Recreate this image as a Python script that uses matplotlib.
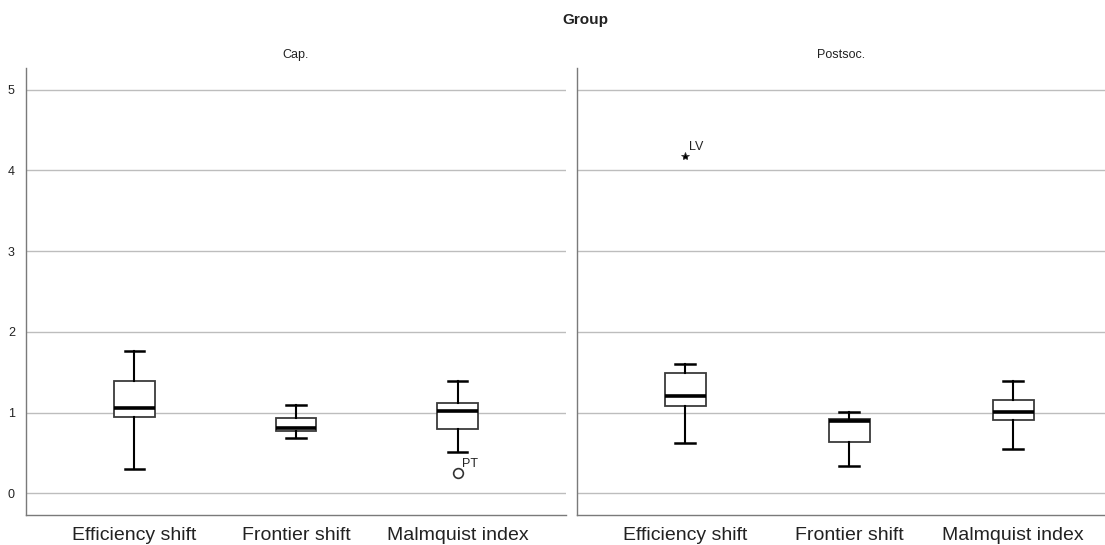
import numpy as np
import matplotlib.pyplot as plt

# categories and panels
categories = ['Efficiency shift', 'Frontier shift', 'Malmquist index']
groups = ['Cap.', 'Postsoc.']

# box summaries per group, in category order
whislo = {'Cap.': [0.30, 0.68, 0.51], 'Postsoc.': [0.62, 0.34, 0.55]}
q1 = {'Cap.': [0.95, 0.77, 0.79], 'Postsoc.': [1.08, 0.64, 0.91]}
med = {'Cap.': [1.05, 0.81, 1.02], 'Postsoc.': [1.20, 0.89, 1.01]}
q3 = {'Cap.': [1.39, 0.93, 1.12], 'Postsoc.': [1.49, 0.92, 1.15]}
whishi = {'Cap.': [1.76, 1.09, 1.39], 'Postsoc.': [1.60, 1.01, 1.39]}

# outliers: (group, category index, value, label, marker)
outliers = [('Cap.', 2, 0.25, 'PT', 'o'),
            ('Postsoc.', 0, 4.18, 'LV', '*')]

plt.rcParams['font.family'] = ['Liberation Sans', 'DejaVu Sans']

W, H = 1105, 545
fig = plt.figure(figsize=(W / 100, H / 100), dpi=100)

def px_axes(x0, x1, y0, y1):
    return fig.add_axes([x0 / W, 1 - y1 / H, (x1 - x0) / W, (y1 - y0) / H])

ax_l = px_axes(26, 566, 68, 515)
ax_r = px_axes(577, 1105, 68, 515)
xlims = {'Cap.': (0.33, 3.67), 'Postsoc.': (0.34, 3.56)}

for ax, g in zip([ax_l, ax_r], groups):
    stats = []
    for i, c in enumerate(categories):
        stats.append(dict(label=c, whislo=whislo[g][i], q1=q1[g][i], med=med[g][i],
                          q3=q3[g][i], whishi=whishi[g][i], fliers=[]))
    ax.bxp(stats, positions=[1, 2, 3], widths=0.25, showfliers=False,
           patch_artist=True,
           boxprops=dict(facecolor='white', edgecolor='#3a3a3a', linewidth=1.3),
           medianprops=dict(color='black', linewidth=2.6),
           whiskerprops=dict(color='black', linewidth=1.5),
           capprops=dict(color='black', linewidth=1.8),
           capwidths=0.12)
    for og, ci, v, lab, mk in outliers:
        if og != g:
            continue
        ax.plot(ci + 1, v, marker=mk, linestyle='none',
                markerfacecolor='white' if mk == 'o' else 'black',
                markeredgecolor='#333333', markersize=7 if mk == 'o' else 6,
                markeredgewidth=1.2 if mk == 'o' else 0.6)
        ax.annotate(lab, (ci + 1, v), xytext=(3, 4), textcoords='offset points',
                    fontsize=9, color='#222222')

    ax.set_ylim(-0.27, 5.27)
    ax.set_xlim(*xlims[g])
    ax.set_yticks([0, 1, 2, 3, 4, 5])
    ax.yaxis.grid(True, color='#bdbdbd', linewidth=1.0)
    ax.set_axisbelow(True)
    for s in ['top', 'right']:
        ax.spines[s].set_visible(False)
    for s in ['left', 'bottom']:
        ax.spines[s].set_color('#7a7a7a')
        ax.spines[s].set_linewidth(1.0)
    ax.tick_params(axis='x', length=0, labelsize=14, pad=9, colors='#222222')
    ax.tick_params(axis='y', length=0, labelsize=9, pad=8, colors='#222222')
    ax.set_title(g, fontsize=9, color='#222222', pad=7)

ax_r.tick_params(axis='y', labelleft=False)
ax_r.set_xticks([1, 2, 3], categories)

fig.text(585 / W, 1 - 20 / H, 'Group', ha='center', va='center',
         fontsize=11, fontweight='bold', color='#222222')

fig.savefig('out.png', dpi=100)
